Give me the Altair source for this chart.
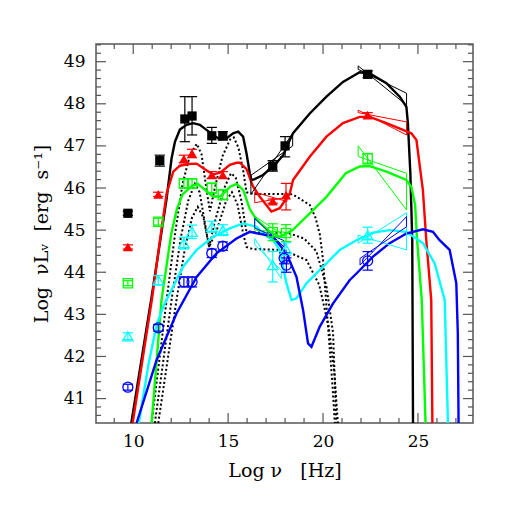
import altair as alt
import pandas as pd

XDOM = [8.04, 27.9]
YDOM = [40.42, 49.42]

# ---------------- model curves (thick solid) ----------------
BLK_X = [9.9, 10.5, 11.0, 11.43, 11.76, 12.02, 12.2, 12.46, 12.81, 13.16, 13.51, 13.86, 14.21, 14.56, 14.92, 15.26, 15.53, 15.79, 15.97, 16.14, 16.23, 16.4, 16.84, 17.46, 17.9, 18.25, 18.42, 19.3, 20.18, 21.05, 21.93, 22.46, 23.34, 24.04, 24.39, 24.47, 24.6, 24.7, 24.74]
BLK_Y = [40.42, 42.1, 43.5, 44.77, 45.75, 46.7, 47.1, 47.39, 47.5, 47.54, 47.5, 47.38, 47.26, 47.16, 47.18, 47.3, 47.34, 47.22, 46.82, 46.35, 46.19, 46.21, 46.31, 46.55, 46.78, 47.14, 47.3, 47.77, 48.17, 48.52, 48.75, 48.72, 48.49, 48.17, 47.93, 47.54, 46.35, 44.76, 40.42]

RED_X = [9.97, 10.5, 11.0, 11.41, 11.76, 12.11, 12.46, 12.9, 13.34, 13.75, 14.21, 14.6, 15.09, 15.44, 15.62, 15.97, 16.3, 16.67, 17.0, 17.28, 17.72, 18.25, 18.42, 19.3, 20.18, 21.05, 21.93, 22.46, 23.34, 24.21, 24.65, 24.92, 25.26, 25.44, 25.7, 25.76]
RED_Y = [40.42, 41.95, 43.4, 44.77, 45.87, 46.39, 46.53, 46.57, 46.58, 46.45, 46.32, 46.37, 46.55, 46.6, 46.6, 46.45, 46.05, 45.79, 45.6, 45.44, 45.52, 45.87, 46.19, 46.74, 47.22, 47.54, 47.69, 47.69, 47.54, 47.38, 47.3, 47.14, 45.95, 44.76, 43.34, 40.42]

GRN_X = [10.97, 11.49, 12.0, 12.3, 12.6, 13.1, 13.4, 13.8, 14.2, 14.6, 15.1, 15.45, 15.8, 16.14, 16.5, 17.2, 17.72, 18.4, 19.3, 20.18, 21.2, 21.93, 22.46, 23.34, 24.39, 24.65, 24.85, 24.95, 25.2, 25.4]
GRN_Y = [40.42, 43.34, 44.9, 45.5, 45.85, 46.05, 46.1, 45.95, 45.8, 45.8, 46.03, 46.1, 45.95, 45.5, 45.25, 44.96, 44.84, 45.0, 45.4, 45.79, 46.35, 46.51, 46.52, 46.39, 46.19, 46.03, 45.6, 44.8, 43.34, 40.42]

CYN_X = [10.3, 10.8, 11.23, 11.6, 11.93, 12.63, 13.34, 14.21, 15.09, 15.79, 16.5, 16.84, 17.37, 17.72, 18.07, 18.34, 18.6, 19.13, 20.18, 20.88, 21.76, 22.63, 23.51, 24.39, 25.26, 25.88, 26.41, 26.58]
CYN_Y = [40.42, 41.8, 42.75, 43.2, 43.5, 44.13, 44.53, 44.84, 45.04, 45.16, 45.08, 44.92, 44.76, 44.53, 43.74, 43.34, 43.38, 43.74, 44.21, 44.53, 44.76, 44.94, 45.0, 44.96, 44.69, 44.21, 43.34, 40.42]

BLU_X = [10.18, 11.23, 12.28, 13.34, 14.39, 15.44, 16.14, 17.02, 17.37, 18.07, 18.6, 18.95, 19.21, 19.39, 19.83, 20.53, 21.4, 21.76, 22.63, 23.51, 24.39, 25.26, 25.79, 26.14, 26.67, 27.02, 27.1, 27.14]
BLU_Y = [40.42, 41.91, 43.02, 43.89, 44.45, 44.8, 44.96, 44.88, 44.84, 44.45, 43.89, 43.1, 42.31, 42.23, 42.71, 43.26, 43.81, 43.97, 44.37, 44.69, 44.92, 45.02, 44.96, 44.76, 44.53, 43.74, 42.55, 40.42]

# ---------------- dotted component curves ----------------
D1_X = [10.97, 11.4, 11.76, 12.2, 12.6, 13.0, 13.35, 13.6, 13.85, 14.04, 14.3, 14.7, 15.1, 15.3, 15.55, 15.8, 15.97, 16.3, 17.5, 18.4, 19.3, 19.6, 19.83, 20.0, 20.18, 20.35, 20.5, 20.62]
D1_Y = [40.42, 42.0, 43.34, 44.9, 46.1, 46.8, 47.05, 46.8, 46.0, 45.45, 46.0, 46.75, 47.15, 47.2, 46.95, 46.4, 45.9, 45.86, 45.86, 45.85, 45.6, 45.3, 44.9, 44.3, 43.2, 42.2, 41.3, 40.42]
D2_X = [11.14, 12.02, 12.5, 12.9, 13.25, 13.5, 13.8, 14.0, 14.3, 14.8, 15.15, 15.4, 15.7, 15.95, 16.2, 18.25, 19.0, 19.65, 20.18, 20.53, 20.7]
D2_Y = [40.42, 43.34, 44.8, 45.7, 46.1, 45.9, 45.1, 44.6, 45.2, 46.0, 46.35, 46.25, 45.7, 45.0, 44.95, 44.92, 44.8, 44.5, 43.66, 42.55, 40.42]
D3_X = [11.32, 12.28, 12.7, 13.1, 13.4, 13.7, 14.0, 14.4, 14.9, 15.2, 15.5, 15.8, 15.97, 16.3, 17.9, 19.13, 19.8, 20.3, 20.6, 20.78]
D3_Y = [40.42, 43.34, 44.5, 45.3, 45.55, 45.3, 44.6, 45.0, 45.7, 45.9, 45.6, 44.9, 44.6, 44.55, 44.53, 44.29, 43.7, 42.7, 41.6, 40.42]

# ---------------- bow-ties (thin) ----------------
GK_X = [21.85, 24.4, 24.4, 21.85, 21.85]; GK_Y = [48.9, 47.97, 48.25, 48.82, 48.9]
GR_X = [21.85, 24.4, 24.4, 21.85, 21.85]; GR_Y = [47.85, 47.26, 47.57, 47.79, 47.85]
GG_X = [21.85, 24.4, 24.4, 21.85, 21.85]; GG_Y = [47.0, 45.48, 46.35, 46.75, 47.0]
GC_X = [21.85, 24.4, 24.4, 21.85, 21.85]; GC_Y = [44.88, 44.53, 45.41, 44.69, 44.88]
GB_X = [21.95, 24.4, 24.4, 21.95, 21.95]; GB_Y = [44.33, 45.08, 45.32, 44.17, 44.33]
XK_X = [16.2, 18.4, 18.4, 16.2, 16.2]; XK_Y = [46.3, 47.0, 47.3, 45.85, 46.3]
XR_X = [16.4, 18.1, 18.1, 16.4, 16.4]; XR_Y = [45.9, 45.68, 45.78, 45.65, 45.9]
XG_X = [16.4, 18.0, 18.0, 16.4, 16.4]; XG_Y = [45.33, 44.85, 44.95, 45.0, 45.33]
XB_X = [16.4, 17.95, 17.95, 16.4, 16.4]; XB_Y = [45.28, 44.6, 44.75, 45.05, 45.28]
XC_X = [16.4, 17.8, 17.8, 16.4, 16.4]; XC_Y = [44.8, 43.85, 44.05, 44.65, 44.8]

# ---------------- data points ----------------
PK_X = [9.72, 11.4, 12.72, 13.1, 14.14, 14.72, 17.35, 18.0, 22.35]
PK_Y = [45.4, 46.65, 47.64, 47.71, 47.24, 47.24, 46.52, 47.0, 48.7]
PK_LO = [45.35, 46.52, 47.1, 47.26, 47.06, 47.14, 46.4, 46.74, 48.62]
PK_HI = [45.45, 46.78, 48.17, 48.17, 47.44, 47.34, 46.65, 47.22, 48.78]

PR_X = [9.72, 11.32, 12.67, 13.1, 14.14, 14.72, 17.35, 18.05, 22.35]
PR_Y = [44.6, 45.85, 46.69, 46.82, 46.31, 46.31, 45.69, 45.83, 47.73]
PR_LO = [44.55, 45.8, 46.6, 46.72, 46.23, 46.23, 45.64, 45.48, 47.67]
PR_HI = [44.65, 45.9, 46.78, 46.92, 46.39, 46.39, 45.74, 46.11, 47.79]

PG_X = [9.72, 11.32, 12.67, 13.1, 14.14, 14.72, 17.35, 18.05, 22.35]
PG_Y = [43.74, 45.2, 46.11, 46.11, 46.0, 45.84, 44.95, 44.93, 46.7]
PG_LO = [43.68, 45.12, 46.0, 46.0, 45.88, 45.72, 44.75, 44.73, 46.57]
PG_HI = [43.8, 45.28, 46.22, 46.22, 46.12, 45.96, 45.15, 45.13, 46.82]

PC_X = [9.72, 11.32, 12.67, 13.1, 14.14, 14.72, 17.35, 18.05, 22.35]
PC_Y = [42.48, 43.81, 44.69, 44.96, 45.08, 45.0, 44.17, 44.55, 44.88]
PC_LO = [42.4, 43.7, 44.55, 44.8, 44.95, 44.87, 43.77, 44.4, 44.69]
PC_HI = [42.56, 43.92, 44.83, 45.12, 45.21, 45.13, 44.49, 44.7, 45.07]

PB_X = [9.72, 11.32, 12.67, 13.1, 14.14, 14.72, 17.95, 18.07, 22.35]
PB_Y = [41.27, 42.68, 43.77, 43.77, 44.45, 44.62, 44.33, 44.17, 44.27]
PB_LO = [41.2, 42.6, 43.65, 43.65, 44.35, 44.52, 44.2, 44.0, 44.05]
PB_HI = [41.34, 42.76, 43.89, 43.89, 44.55, 44.72, 44.46, 44.34, 44.49]

# ---------------- tick values ----------------
XMAJ = [10, 15, 20, 25]
XMIN = [9, 11, 12, 13, 14, 16, 17, 18, 19, 21, 22, 23, 24, 26, 27]
YMAJ = [41, 42, 43, 44, 45, 46, 47, 48, 49]
YMIN = [40.6, 40.8, 41.2, 41.4, 41.6, 41.8, 42.2, 42.4, 42.6, 42.8, 43.2, 43.4, 43.6, 43.8,
        44.2, 44.4, 44.6, 44.8, 45.2, 45.4, 45.6, 45.8, 46.2, 46.4, 46.6, 46.8, 47.2, 47.4,
        47.6, 47.8, 48.2, 48.4, 48.6, 48.8, 49.2, 49.4]

W, H = 377, 379
BLACK, RED, GREEN, CYAN, BLUE = "#000000", "#ff0000", "#00ff00", "#00ffff", "#0000ff"

def curve_df(items):
    rows = []
    for name, xs, ys, col in items:
        for i, (a, b) in enumerate(zip(xs, ys)):
            rows.append({"name": name, "x": a, "y": b, "i": i, "c": col})
    return pd.DataFrame(rows)

models = curve_df([("k", BLK_X, BLK_Y, BLACK), ("r", RED_X, RED_Y, RED), ("g", GRN_X, GRN_Y, GREEN),
                   ("c", CYN_X, CYN_Y, CYAN), ("b", BLU_X, BLU_Y, BLUE)])
dotted = curve_df([("d1", D1_X, D1_Y, BLACK), ("d2", D2_X, D2_Y, BLACK), ("d3", D3_X, D3_Y, BLACK)])
bows = curve_df([("gk", GK_X, GK_Y, BLACK), ("gr", GR_X, GR_Y, RED), ("gg", GG_X, GG_Y, GREEN),
                 ("gc", GC_X, GC_Y, CYAN), ("gb", GB_X, GB_Y, BLUE),
                 ("xk", XK_X, XK_Y, BLACK), ("xr", XR_X, XR_Y, RED), ("xg", XG_X, XG_Y, GREEN),
                 ("xb", XB_X, XB_Y, BLUE), ("xc", XC_X, XC_Y, CYAN)])

def pts_df(name, xs, ys, lo, hi, col):
    return pd.DataFrame({"s": name, "x": xs, "y": ys, "lo": lo, "hi": hi, "c": col})

pts = pd.concat([pts_df("k", PK_X, PK_Y, PK_LO, PK_HI, BLACK), pts_df("r", PR_X, PR_Y, PR_LO, PR_HI, RED),
                 pts_df("g", PG_X, PG_Y, PG_LO, PG_HI, GREEN), pts_df("c", PC_X, PC_Y, PC_LO, PC_HI, CYAN),
                 pts_df("b", PB_X, PB_Y, PB_LO, PB_HI, BLUE)], ignore_index=True)

FONT = "DejaVu Serif"
FRAME = "#555555"
NB = "\u00a0"
XTITLE = f"Log{NB}ν{NB}{NB}{NB}[Hz]"
YTITLE = f"Log{NB}{NB}νLᵥ{NB}{NB}[erg{NB}{NB}s⁻¹]"
xs = alt.Scale(domain=XDOM, nice=False, zero=False)
ys = alt.Scale(domain=YDOM, nice=False, zero=False)

x_axis = alt.Axis(orient="bottom", values=XMAJ, tickSize=0, domain=False, grid=False,
                  labelFont=FONT, labelFontSize=17, labelColor="black", labelPadding=10,
                  title=XTITLE, titleFont=FONT, titleFontSize=19, titleFontWeight="normal",
                  titleColor="black", titlePadding=12, format="d")
y_axis = alt.Axis(orient="left", values=YMAJ, tickSize=0, domain=False, grid=False,
                  labelFont=FONT, labelFontSize=17, labelColor="black", labelPadding=11,
                  title=YTITLE, titleFont=FONT, titleFontSize=19, titleFontWeight="normal",
                  titleColor="black", titlePadding=12, format="d")

# first layer carries the axes
dot_layer = alt.Chart(dotted).mark_line(strokeWidth=2, strokeDash=[2, 2.4], color="black").encode(
    x=alt.X("x:Q", scale=xs, axis=x_axis), y=alt.Y("y:Q", scale=ys, axis=y_axis),
    detail="name:N", order="i:Q")

model_layer = alt.Chart(models).mark_line(strokeWidth=2.4).encode(
    x=alt.X("x:Q", scale=xs, axis=None), y=alt.Y("y:Q", scale=ys, axis=None),
    color=alt.Color("c:N", scale=None), detail="name:N", order="i:Q")

bow_layer = alt.Chart(bows).mark_line(strokeWidth=1).encode(
    x=alt.X("x:Q", scale=xs, axis=None), y=alt.Y("y:Q", scale=ys, axis=None),
    color=alt.Color("c:N", scale=None), detail="name:N", order="i:Q")

err_layer = alt.Chart(pts).mark_rule(strokeWidth=1.2).encode(
    x=alt.X("x:Q", scale=xs, axis=None), y=alt.Y("lo:Q", scale=ys, axis=None),
    y2="hi:Q", color=alt.Color("c:N", scale=None))

cap_base = alt.Chart(pts).transform_calculate(xl="datum.x - 0.27", xr="datum.x + 0.27")
cap_lo = cap_base.mark_rule(strokeWidth=1.2).encode(
    x=alt.X("xl:Q", scale=xs, axis=None), x2="xr:Q",
    y=alt.Y("lo:Q", scale=ys, axis=None), color=alt.Color("c:N", scale=None))
cap_hi = cap_base.mark_rule(strokeWidth=1.2).encode(
    x=alt.X("xl:Q", scale=xs, axis=None), x2="xr:Q",
    y=alt.Y("hi:Q", scale=ys, axis=None), color=alt.Color("c:N", scale=None))

def marker(s, shape, filled, col, size):
    return alt.Chart(pts).transform_filter(alt.datum.s == s).mark_point(
        shape=shape, filled=filled, color=col, size=size, strokeWidth=1.3, opacity=1).encode(
        x=alt.X("x:Q", scale=xs, axis=None), y=alt.Y("y:Q", scale=ys, axis=None))

# inward frame ticks (positions from the tick values through the scales)
def xticks(vals, length):
    d = pd.DataFrame({"v": vals})
    bot = alt.Chart(d).mark_rule(color=FRAME, strokeWidth=1.2).encode(
        x=alt.X("v:Q", scale=xs, axis=None), y=alt.value(H), y2=alt.value(H - length))
    top = alt.Chart(d).mark_rule(color=FRAME, strokeWidth=1.2).encode(
        x=alt.X("v:Q", scale=xs, axis=None), y=alt.value(0), y2=alt.value(length))
    return [bot, top]

def yticks(vals, length):
    d = pd.DataFrame({"v": vals})
    left = alt.Chart(d).mark_rule(color=FRAME, strokeWidth=1.2).encode(
        y=alt.Y("v:Q", scale=ys, axis=None), x=alt.value(0), x2=alt.value(length))
    right = alt.Chart(d).mark_rule(color=FRAME, strokeWidth=1.2).encode(
        y=alt.Y("v:Q", scale=ys, axis=None), x=alt.value(W), x2=alt.value(W - length))
    return [left, right]

tick_layers = xticks(XMAJ, 10) + xticks(XMIN, 5) + yticks(YMAJ, 10) + yticks(YMIN, 5)

chart = alt.layer(
    dot_layer, *tick_layers,
    model_layer, bow_layer, err_layer, cap_lo, cap_hi,
    marker("k", "square", True, BLACK, 85),
    marker("r", "triangle-up", True, RED, 100),
    marker("g", "square", False, GREEN, 85),
    marker("c", "triangle-up", False, CYAN, 110),
    marker("b", "circle", False, BLUE, 100),
).resolve_axis(x="independent", y="independent").properties(
    width=W, height=H,
    padding={"left": 88, "top": 36, "right": 20, "bottom": 80},
    autosize=alt.AutoSizeParams(type="none"),
).configure_view(stroke=FRAME, strokeWidth=1.5)

chart.save("out.html", embed_options={"renderer": "svg", "actions": False})
